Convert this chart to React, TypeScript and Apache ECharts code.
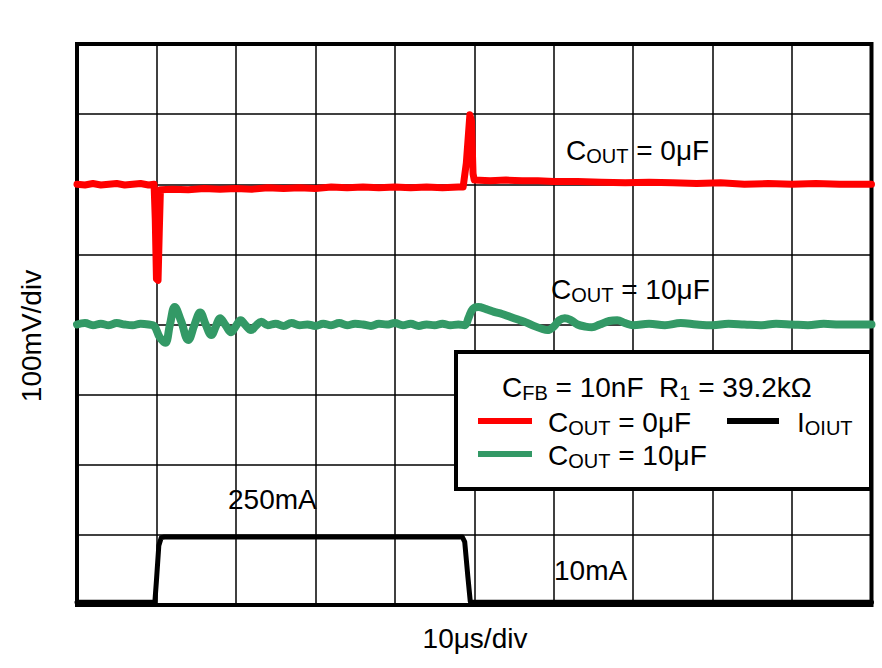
import React, { useEffect, useRef } from "react";
import * as echarts from "echarts";

// x in divisions (10 µs/div), y in divisions (100 mV/div)
const xDivisions = [0, 10];
const yDivisions = [0, 8];

const redTrace: number[][] = [
  [0, 6.0], [0.1, 5.99], [0.2, 6.01], [0.3, 5.99], [0.4, 6.0], [0.5, 6.01], [0.6, 5.99], [0.7, 6.0],
  [0.8, 6.01], [0.9, 5.99], [0.97, 6.0], [0.985, 5.5], [1.0, 4.65], [1.02, 4.63], [1.035, 5.3], [1.05, 5.92],
  [1.2, 5.93], [1.4, 5.92], [1.6, 5.94], [1.8, 5.93], [2.0, 5.94], [2.2, 5.93], [2.4, 5.95], [2.6, 5.94],
  [2.8, 5.95], [3.0, 5.94], [3.2, 5.96], [3.4, 5.95], [3.6, 5.96], [3.8, 5.95], [4.0, 5.96], [4.2, 5.95],
  [4.4, 5.96], [4.6, 5.95], [4.8, 5.96], [4.86, 5.96], [4.9, 6.3], [4.945, 6.99], [4.965, 6.9], [4.985, 6.15],
  [5.0, 6.06], [5.2, 6.05], [5.4, 6.06], [5.6, 6.05], [5.8, 6.05], [6.0, 6.04], [6.3, 6.04], [6.6, 6.03],
  [6.9, 6.02], [7.2, 6.03], [7.5, 6.02], [7.8, 6.01], [8.1, 6.02], [8.4, 6.0], [8.7, 6.01], [9.0, 6.0],
  [9.3, 6.01], [9.6, 6.0], [10, 6.0],
];

const greenTrace: number[][] = [
  [0, 4.0], [0.1, 4.02], [0.2, 3.99], [0.3, 4.01], [0.4, 3.99], [0.5, 4.02], [0.6, 4.0], [0.7, 3.99],
  [0.8, 4.01], [0.9, 4.0], [0.97, 3.98], [1.04, 3.82], [1.11, 3.74], [1.17, 4.0], [1.23, 4.25], [1.31, 4.05],
  [1.4, 3.78], [1.48, 4.0], [1.55, 4.17], [1.62, 4.0], [1.69, 3.85], [1.75, 3.98], [1.8, 4.09], [1.87, 3.99],
  [1.94, 3.89], [2.0, 3.98], [2.06, 4.06], [2.12, 3.99], [2.19, 3.92], [2.25, 3.98], [2.32, 4.04], [2.4, 3.99],
  [2.5, 4.01], [2.6, 3.98], [2.7, 4.02], [2.8, 3.99], [2.9, 4.0], [3.0, 3.98], [3.1, 4.01], [3.2, 3.99],
  [3.3, 4.02], [3.4, 3.99], [3.5, 4.01], [3.6, 4.0], [3.7, 3.98], [3.8, 4.01], [3.9, 4.0], [4.0, 4.02],
  [4.1, 3.99], [4.2, 4.01], [4.3, 3.98], [4.4, 4.0], [4.5, 3.99], [4.6, 4.01], [4.7, 3.99], [4.8, 4.0],
  [4.88, 3.99], [4.93, 4.1], [4.98, 4.22], [5.05, 4.25], [5.15, 4.22], [5.25, 4.18], [5.35, 4.15], [5.45, 4.11],
  [5.55, 4.07], [5.65, 4.03], [5.75, 3.98], [5.85, 3.94], [5.92, 3.92], [6.0, 3.97], [6.07, 4.06], [6.14, 4.09],
  [6.22, 4.06], [6.3, 4.0], [6.4, 3.97], [6.48, 3.96], [6.58, 4.0], [6.7, 4.05], [6.8, 4.06], [6.9, 4.02],
  [7.0, 3.99], [7.2, 4.01], [7.4, 3.99], [7.6, 4.02], [7.8, 4.0], [8.0, 3.99], [8.2, 4.01], [8.4, 4.0],
  [8.6, 3.99], [8.8, 4.01], [9.0, 4.0], [9.2, 3.99], [9.4, 4.01], [9.6, 4.0], [9.8, 4.0], [10, 4.0],
];

const blackTrace: number[][] = [
  [0, 0.04], [0.5, 0.04], [0.98, 0.04], [1.0, 0.35], [1.03, 0.85], [1.06, 0.96], [1.1, 0.97],
  [2, 0.97], [3, 0.97], [4, 0.97], [4.85, 0.97], [4.88, 0.9], [4.92, 0.4], [4.95, 0.05], [4.98, 0.04], [10, 0.04],
];

const seriesNames = ["COUT = 0μF", "COUT = 10μF", "IOIUT"];
const seriesColors = ["#ff0000", "#339966", "#000000"];

const FONT = "'Liberation Sans', Arial, sans-serif";

const rich = {
  m: { fontSize: 28, fontFamily: FONT, fill: "#000" },
  s: { fontSize: 20, fontFamily: FONT, fill: "#000", padding: [12, 0, 0, 0] },
};

function richText(x: number, y: number, text: string, align = "left") {
  return {
    type: "text",
    x,
    y,
    z: 20,
    style: { text, rich, fill: "#000", align, verticalAlign: "middle", fontFamily: FONT, fontSize: 28 },
  };
}

export default function App() {
  const ref = useRef<HTMLDivElement>(null);
  useEffect(() => {
    document.body.style.margin = "0";
    const chart = echarts.init(ref.current!, null, { renderer: "svg" });
    chart.setOption({
      animation: false,
      backgroundColor: "#fff",
      grid: {
        left: 77, right: 10.5, top: 44, bottom: 63,
        show: true, borderColor: "#000", borderWidth: 4, backgroundColor: "transparent",
      },
      xAxis: {
        type: "value", min: xDivisions[0], max: xDivisions[1], interval: 1,
        axisLabel: { show: false }, axisTick: { show: false }, axisLine: { show: false },
        splitLine: { show: true, lineStyle: { color: "#000", width: 1.5 } },
      },
      yAxis: {
        type: "value", min: yDivisions[0], max: yDivisions[1], interval: 1,
        axisLabel: { show: false }, axisTick: { show: false }, axisLine: { show: false },
        splitLine: { show: true, lineStyle: { color: "#000", width: 1.5 } },
      },
      series: [
        { name: seriesNames[0], type: "line", data: redTrace, showSymbol: false, z: 5,
          lineStyle: { color: seriesColors[0], width: 7, cap: "round", join: "round" } },
        { name: seriesNames[1], type: "line", data: greenTrace, showSymbol: false, z: 4, smooth: 0.4,
          lineStyle: { color: seriesColors[1], width: 8, cap: "round", join: "round" } },
        { name: seriesNames[2], type: "line", data: blackTrace, showSymbol: false, z: 6,
          lineStyle: { color: seriesColors[2], width: 5, cap: "round", join: "round" } },
      ],
      graphic: [
        { type: "rect", z: 15, shape: { x: 456, y: 352, width: 415, height: 137 },
          style: { fill: "#fff", stroke: "#000", lineWidth: 4 } },
        richText(502, 387, "{m|C}{s|FB}{m| = 10nF  R}{s|1}{m| = 39.2kΩ}"),
        { type: "line", z: 20, shape: { x1: 478, y1: 421, x2: 532, y2: 421 }, style: { stroke: seriesColors[0], lineWidth: 6 } },
        richText(548, 422, "{m|C}{s|OUT}{m| = 0μF}"),
        { type: "line", z: 20, shape: { x1: 727, y1: 421, x2: 779, y2: 421 }, style: { stroke: seriesColors[2], lineWidth: 6 } },
        richText(797, 422, "{m|I}{s|OIUT}"),
        { type: "line", z: 20, shape: { x1: 478, y1: 454, x2: 532, y2: 454 }, style: { stroke: seriesColors[1], lineWidth: 6 } },
        richText(548, 455, "{m|C}{s|OUT}{m| = 10μF}"),
        richText(566, 150, "{m|C}{s|OUT}{m| = 0μF}"),
        richText(551, 289, "{m|C}{s|OUT}{m| = 10μF}"),
        richText(228, 499, "{m|250mA}"),
        richText(554, 570, "{m|10mA}"),
        richText(475, 638, "{m|10μs/div}", "center"),
        { type: "text", x: 31, y: 336, rotation: Math.PI / 2, z: 20,
          style: { text: "100mV/div", fill: "#000", fontSize: 28, fontFamily: FONT, align: "center", verticalAlign: "middle" } },
      ],
    });
    return () => chart.dispose();
  }, []);
  return <div ref={ref} style={{ width: 882, height: 668 }} />;
}
